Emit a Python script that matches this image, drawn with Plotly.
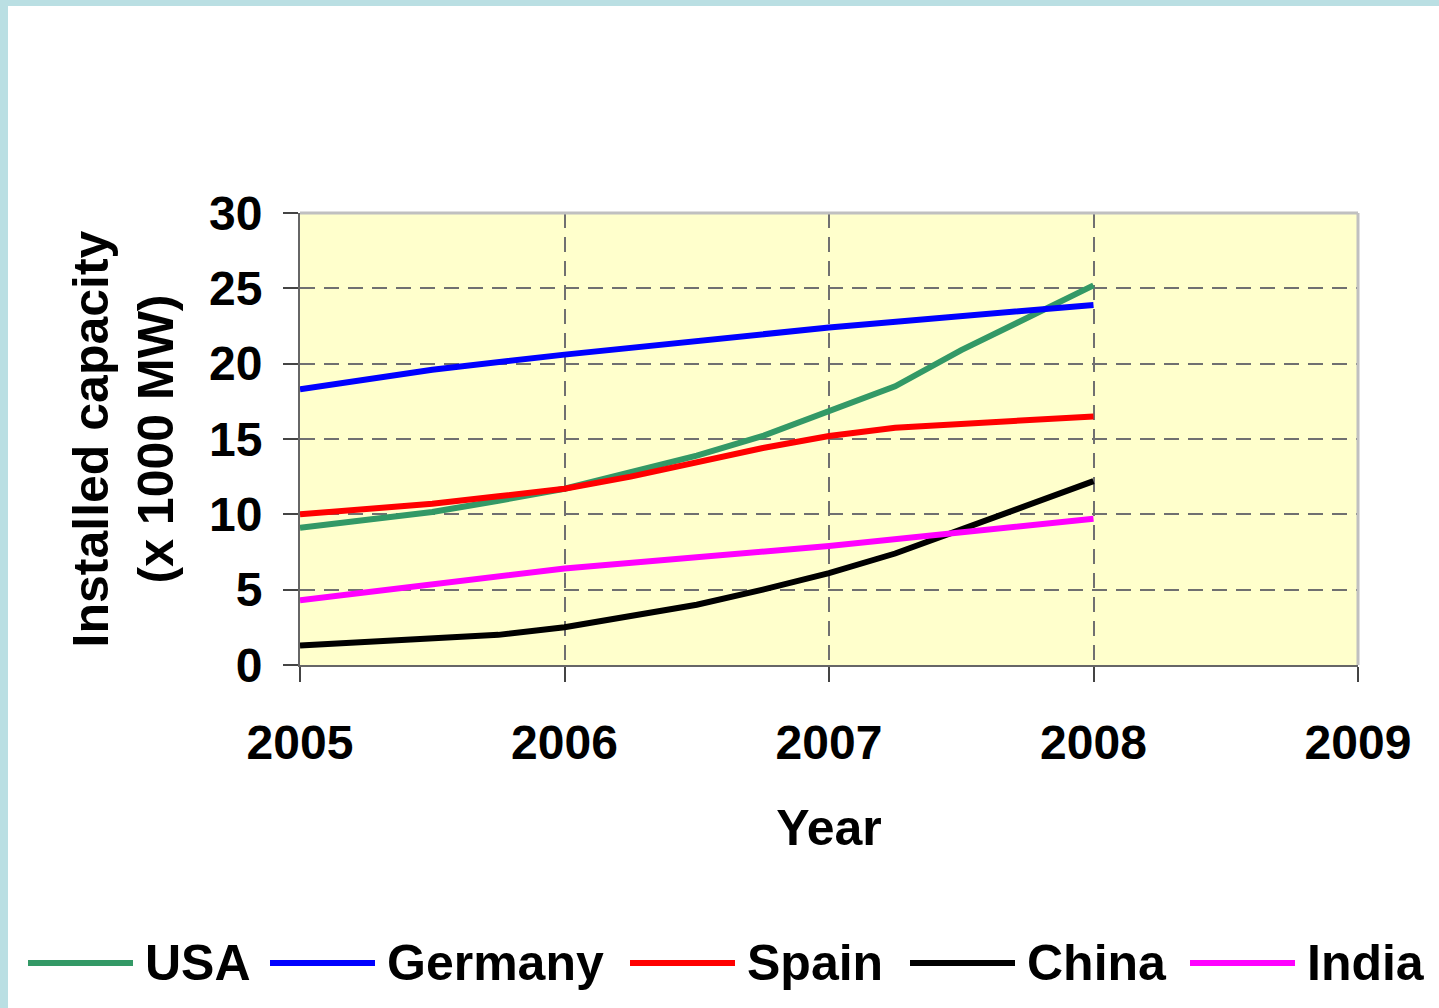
import plotly.graph_objects as go

# ---------------- data ----------------
usa_years = [2005, 2005.5, 2005.75, 2006, 2006.25, 2006.5, 2006.75, 2007, 2007.25, 2007.5, 2007.75, 2008]
usa_vals = [9.1, 10.15, 10.9, 11.7, 12.8, 13.9, 15.2, 16.8, 18.5, 20.9, 23.0, 25.2]

germany_years = [2005, 2005.5, 2006, 2007, 2008]
germany_vals = [18.3, 19.6, 20.6, 22.4, 23.9]

spain_years = [2005, 2005.5, 2005.75, 2006, 2006.25, 2006.75, 2007, 2007.25, 2008]
spain_vals = [10.0, 10.7, 11.2, 11.7, 12.5, 14.4, 15.2, 15.75, 16.5]

china_years = [2005, 2005.75, 2006, 2006.5, 2006.75, 2007, 2007.25, 2007.5, 2008]
china_vals = [1.3, 2.0, 2.5, 4.0, 5.0, 6.1, 7.4, 9.0, 12.2]

india_years = [2005, 2005.5, 2006, 2007, 2007.5, 2008]
india_vals = [4.3, 5.4, 6.4, 7.9, 8.8, 9.7]

series_names = ["USA", "Germany", "Spain", "China", "India"]
series_colors = ["#339966", "#0000FF", "#FF0000", "#000000", "#FF00FF"]
series_x = [usa_years, germany_years, spain_years, china_years, india_years]
series_y = [usa_vals, germany_vals, spain_vals, china_vals, india_vals]

x_ticks = [2005, 2006, 2007, 2008, 2009]
y_ticks = [0, 5, 10, 15, 20, 25, 30]

# ---------------- layout geometry ----------------
W, H = 1439, 1008
ML, MR, MT, MB = 300, 81, 213, 343
PW = W - ML - MR
PH = H - MT - MB


def px_x(px):
    return (px - ML) / PW


def px_y(py):
    return (H - MB - py) / PH


FONT = "Liberation Sans, Arial, sans-serif"

fig = go.Figure()
for name, color, xs, ys in zip(series_names, series_colors, series_x, series_y):
    fig.add_trace(go.Scatter(x=xs, y=ys, mode="lines", name=name,
                             line=dict(color=color, width=6), showlegend=False))

shapes = []
# light blue frame strips (top and left)
shapes.append(dict(type="rect", xref="paper", yref="paper", x0=px_x(0), x1=px_x(W),
                   y0=px_y(6), y1=px_y(0), fillcolor="#BADFE3", line=dict(width=0), layer="above"))
shapes.append(dict(type="rect", xref="paper", yref="paper", x0=px_x(0), x1=px_x(8),
                   y0=px_y(H), y1=px_y(0), fillcolor="#BADFE3", line=dict(width=0), layer="above"))
# light gray top/right plot border
shapes.append(dict(type="line", xref="paper", yref="paper", x0=0, x1=1, y0=1, y1=1,
                   line=dict(color="#C0C0C0", width=3), layer="above"))
shapes.append(dict(type="line", xref="paper", yref="paper", x0=1, x1=1, y0=0, y1=1,
                   line=dict(color="#C0C0C0", width=3), layer="above"))

# custom legend
leg_sample_start = [28, 270, 630, 910, 1190]
leg_sample_len = 105
leg_text_gap = 10
leg_y = 963
annotations = []
for name, color, sx in zip(series_names, series_colors, leg_sample_start):
    shapes.append(dict(type="line", xref="paper", yref="paper",
                       x0=px_x(sx), x1=px_x(sx + leg_sample_len),
                       y0=px_y(leg_y), y1=px_y(leg_y),
                       line=dict(color=color, width=6)))
    annotations.append(dict(xref="paper", yref="paper", x=px_x(sx + leg_sample_len + leg_text_gap),
                            y=px_y(leg_y), xanchor="left", yanchor="middle", showarrow=False,
                            text=name, font=dict(family=FONT, size=50, color="black", weight="bold")))

fig.update_layout(
    width=W, height=H,
    margin=dict(l=ML, r=MR, t=MT, b=MB, pad=0),
    paper_bgcolor="white",
    plot_bgcolor="#FFFFCC",
    showlegend=False,
    shapes=shapes,
    annotations=annotations,
    font=dict(family=FONT, color="black"),
)

fig.update_xaxes(
    range=[2005, 2009], tickvals=x_ticks, ticktext=[str(t) for t in x_ticks],
    showline=True, linecolor="#666666", linewidth=2,
    ticks="outside", ticklen=15, tickwidth=1.5, tickcolor="#444444",
    showgrid=True, gridcolor="#707070", gridwidth=1.5, griddash="15px,9px",
    zeroline=False,
    tickfont=dict(family=FONT, size=48, color="black", weight="bold"),
    ticklabelstandoff=19,
    title=dict(text="Year", font=dict(family=FONT, size=50, color="black", weight="bold"), standoff=42),
)
fig.update_yaxes(
    range=[0, 30], tickvals=y_ticks,
    showline=True, linecolor="#666666", linewidth=2,
    ticks="outside", ticklen=15, tickwidth=1.5, tickcolor="#444444",
    showgrid=True, gridcolor="#707070", gridwidth=1.5, griddash="15px,9px",
    zeroline=False,
    tickfont=dict(family=FONT, size=48, color="black", weight="bold"),
    ticklabelstandoff=11,
    title=dict(text="Installed capacity<br>(x 1000 MW)",
               font=dict(family=FONT, size=50, color="black", weight="bold"), standoff=20),
)

fig.write_html("out.html")
